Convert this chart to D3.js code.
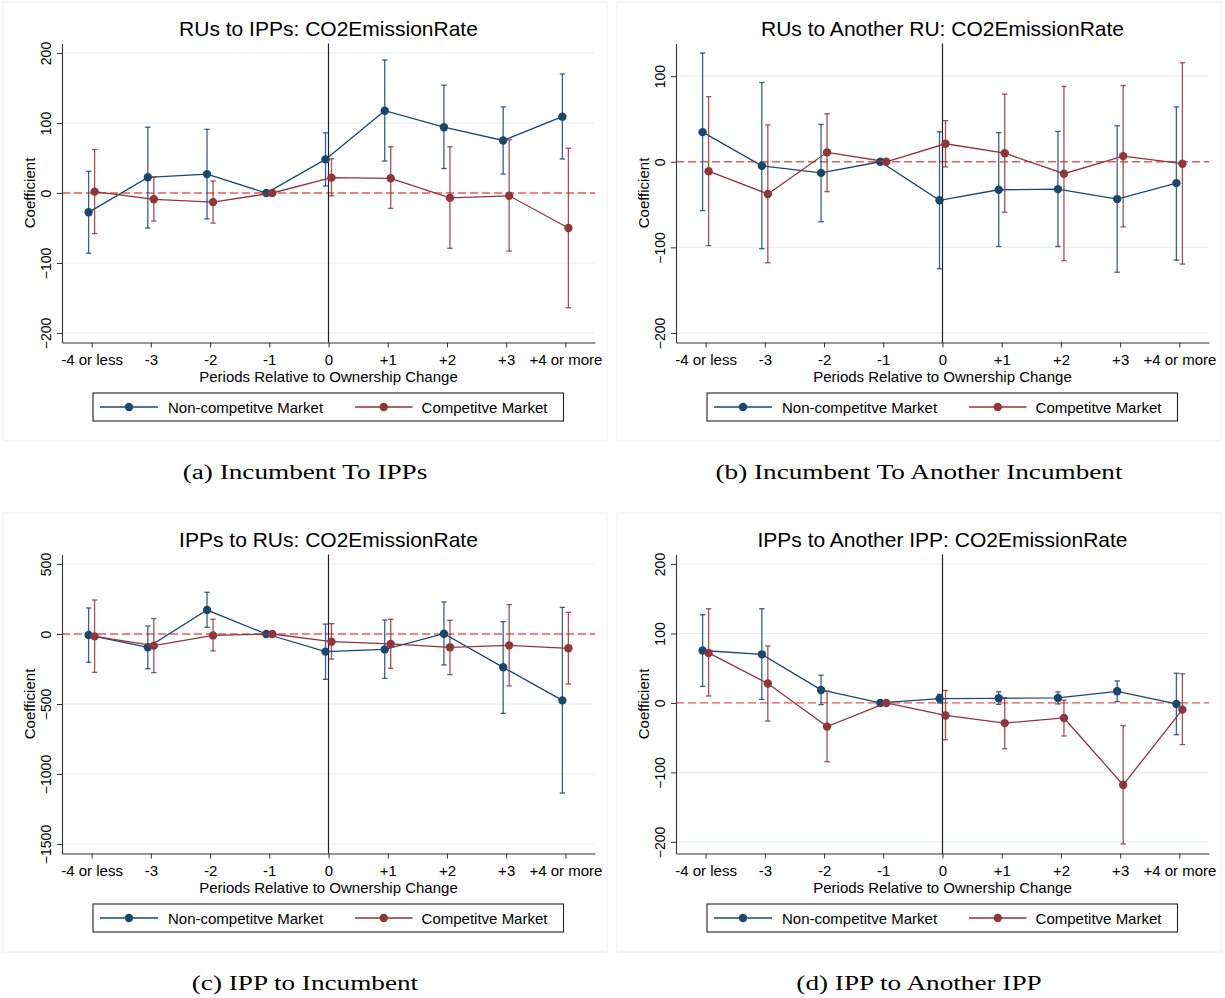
<!DOCTYPE html>
<html>
<head>
<meta charset="utf-8">
<script src="https://cdn.jsdelivr.net/npm/d3@7"></script>
<style>
  body { margin: 0; background: #fff; }
  text { font-family: "Liberation Sans", Arial, Helvetica, sans-serif; fill: #000; }
</style>
</head>
<body>
<div id="chart"></div>
<script>
// event-study coefficients
const categories = ["-4 or less", "-3", "-2", "-1", "0", "+1", "+2", "+3", "+4 or more"];

// (a) RUs to IPPs
const aNonCoef = [-27.6, 22.4, 27, 0, 48, 117.6, 94, 75, 109];
const aNonLo = [-86, -50, -37, null, 10, 45.7, 35, 27, 48.6];
const aNonHi = [31, 94, 91, null, 86, 190, 154, 123, 170];
const aCompCoef = [2, -9, -13, 0, 22, 21, -7, -4, -50];
const aCompLo = [-58, -40, -43, null, -4, -22, -79, -83, -164];
const aCompHi = [62, 23, 17, null, 49, 66, 66, 76, 64];

// (b) RUs to Another RU
const bNonCoef = [34.6, -4.7, -13, 0, -45, -32.7, -32, -43.6, -25];
const bNonLo = [-57, -101.6, -70, null, -125, -99, -99, -129, -115];
const bNonHi = [127, 92.6, 43.6, null, 35, 34, 35.4, 42, 64];
const bCompCoef = [-11, -37.7, 11, 0, 21, 10, -14, 6.6, -2.3];
const bCompLo = [-98, -118, -35, null, -6, -59, -115.6, -76, -119.5];
const bCompHi = [76, 43, 56, null, 48, 79, 88, 89, 115.6];

// (c) IPPs to RUs
const cNonCoef = [-7, -95, 171, 0, -126, -110, 2, -238, -474];
const cNonLo = [-202, -248, 48, null, -324, -317, -221, -567, -1136];
const cNonHi = [186, 57, 298, null, 71, 100, 229, 88, 190];
const cCompCoef = [-17, -83, -10, 0, -55, -71, -95, -81, -102];
const cCompLo = [-274, -276, -121, null, -179, -245, -290, -371, -357];
const cCompHi = [243, 110, 105, null, 74, 105, 98, 210, 155];

// (d) IPPs to Another IPP
const dNonCoef = [75.5, 70, 18.75, 0, 6.25, 6.7, 7.2, 16.8, -1.4];
const dNonLo = [24, 5, -2.4, null, 0, -2, -1.4, 2, -45.7];
const dNonHi = [127, 135.6, 40, null, 12.5, 16, 16, 31.7, 42.8];
const dCompCoef = [72, 28, -34, 0, -18, -29, -21.6, -118, -9.6];
const dCompLo = [10, -26, -84.6, null, -53, -66, -47.6, -203, -60];
const dCompHi = [135.6, 82, 17, null, 18, 7.7, 4, -32.7, 42];

const legendNames = ["Non-competitve Market", "Competitve Market"];
const colors = ["#1a476f", "#90353b"];

const panels = [
  { title: "RUs to IPPs: CO2EmissionRate", caption: "(a) Incumbent To IPPs",
    ticks: [-200, -100, 0, 100, 200], dx: 0, dy: 0,
    series: [[aNonCoef, aNonLo, aNonHi], [aCompCoef, aCompLo, aCompHi]] },
  { title: "RUs to Another RU: CO2EmissionRate", caption: "(b) Incumbent To Another Incumbent",
    ticks: [-200, -100, 0, 100], dx: 614, dy: 0,
    series: [[bNonCoef, bNonLo, bNonHi], [bCompCoef, bCompLo, bCompHi]] },
  { title: "IPPs to RUs: CO2EmissionRate", caption: "(c) IPP to Incumbent",
    ticks: [-1500, -1000, -500, 0, 500], dx: 0, dy: 511,
    series: [[cNonCoef, cNonLo, cNonHi], [cCompCoef, cCompLo, cCompHi]] },
  { title: "IPPs to Another IPP: CO2EmissionRate", caption: "(d) IPP to Another IPP",
    ticks: [-200, -100, 0, 100, 200], dx: 614, dy: 511,
    series: [[dNonCoef, dNonLo, dNonHi], [dCompCoef, dCompLo, dCompHi]] }
];

const W = 1225, H = 998;
const plot = { left: 62, right: 595, top: 43.5, bottom: 342.5 };
const offsets = [-3, 3];

const svg = d3.select("#chart").append("svg")
  .attr("width", W).attr("height", H)
  .attr("viewBox", `0 0 ${W} ${H}`);
svg.append("rect").attr("width", W).attr("height", H).attr("fill", "#fff");

panels.forEach(p => {
  const g = svg.append("g").attr("transform", `translate(${p.dx},${p.dy})`);

  // graph region
  g.append("rect")
    .attr("x", 3).attr("y", 2).attr("width", 604).attr("height", 439)
    .attr("fill", "#fff").attr("stroke", "#eeeeee");

  // y range = ticks + CIs, padded like stata does
  const allVals = p.ticks.slice();
  p.series.forEach(s => s.forEach(arr => arr.forEach(v => { if (v != null) allVals.push(v) })));
  const [lo, hi] = d3.extent(allVals);
  const pad = (hi - lo) * 0.034;

  const x = d3.scalePoint().domain(categories).range([plot.left, plot.right]).padding(0.5);
  const y = d3.scaleLinear().domain([lo - pad, hi + pad]).range([plot.bottom, plot.top]);

  // grid
  g.append("g").selectAll("line")
    .data(p.ticks).enter().append("line")
    .attr("x1", plot.left).attr("x2", plot.right)
    .attr("y1", d => y(d)).attr("y2", d => y(d))
    .attr("stroke", "#eaf0f1").attr("stroke-width", 1.2);

  // zero line
  g.append("line")
    .attr("x1", plot.left).attr("x2", plot.right)
    .attr("y1", y(0)).attr("y2", y(0))
    .attr("stroke", "#f05a5a").attr("stroke-width", 1.3)
    .attr("stroke-dasharray", "8,4");

  // event line
  g.append("line")
    .attr("x1", x("0")).attr("x2", x("0"))
    .attr("y1", plot.top).attr("y2", plot.bottom)
    .attr("stroke", "#222").attr("stroke-width", 1.2);

  // axes
  const yAxis = g.append("g")
    .attr("transform", `translate(${plot.left},0)`)
    .call(d3.axisLeft(y).tickValues(p.ticks).tickSize(5).tickSizeOuter(0).tickFormat(d3.format("d")));
  yAxis.selectAll("text")
    .attr("x", null).attr("dy", null)
    .attr("text-anchor", "middle")
    .attr("transform", "translate(-11,0) rotate(-90)")
    .style("font-size", "14px");

  const xAxis = g.append("g")
    .attr("transform", `translate(0,${plot.bottom})`)
    .call(d3.axisBottom(x).tickSize(5).tickSizeOuter(0));
  xAxis.selectAll("text")
    .attr("y", 22).attr("dy", null)
    .style("font-size", "15px");

  [yAxis, xAxis].forEach(ax => {
    ax.select(".domain").attr("stroke", "#333").attr("stroke-width", 1.1);
    ax.selectAll(".tick line").attr("stroke", "#333");
  });

  // series
  p.series.forEach((s, si) => {
    const [coef, low, high] = s;
    const col = colors[si];
    const xs = i => x(categories[i]) + offsets[si];
    const sg = g.append("g");

    const ci = sg.selectAll("g.ci")
      .data(coef.map((c, i) => ({ i, lo: low[i], hi: high[i] })).filter(d => d.lo != null))
      .enter().append("g").attr("class", "ci")
      .attr("stroke", col).attr("stroke-opacity", 0.85).attr("stroke-width", 1.3);
    ci.append("line")
      .attr("x1", d => xs(d.i)).attr("x2", d => xs(d.i))
      .attr("y1", d => y(d.lo)).attr("y2", d => y(d.hi));
    ci.append("line")
      .attr("x1", d => xs(d.i) - 2.7).attr("x2", d => xs(d.i) + 2.7)
      .attr("y1", d => y(d.lo)).attr("y2", d => y(d.lo));
    ci.append("line")
      .attr("x1", d => xs(d.i) - 2.7).attr("x2", d => xs(d.i) + 2.7)
      .attr("y1", d => y(d.hi)).attr("y2", d => y(d.hi));

    sg.append("path")
      .datum(coef)
      .attr("fill", "none").attr("stroke", col).attr("stroke-width", 1.3)
      .attr("d", d3.line().x((d, i) => xs(i)).y(d => y(d)));

    sg.selectAll("circle")
      .data(coef).enter().append("circle")
      .attr("cx", (d, i) => xs(i)).attr("cy", d => y(d))
      .attr("r", 4.2).attr("fill", col);
  });

  // titles
  const cx = (plot.left + plot.right) / 2;
  g.append("text")
    .attr("x", cx).attr("y", 36)
    .attr("text-anchor", "middle")
    .style("font-size", "21px")
    .text(p.title);

  g.append("text")
    .attr("transform", `translate(35,${(plot.top + plot.bottom) / 2}) rotate(-90)`)
    .attr("text-anchor", "middle")
    .style("font-size", "15px")
    .text("Coefficient");

  g.append("text")
    .attr("x", cx).attr("y", 381.5)
    .attr("text-anchor", "middle")
    .style("font-size", "15px")
    .text("Periods Relative to Ownership Change");

  // legend
  const lg = g.append("g");
  lg.append("rect")
    .attr("x", 93).attr("y", 393).attr("width", 470.5).attr("height", 28)
    .attr("fill", "#fff").attr("stroke", "#222").attr("stroke-width", 1.1);
  const items = [{ x1: 100, x2: 158, tx: 168 }, { x1: 355, x2: 412.5, tx: 421.6 }];
  items.forEach((it, i) => {
    lg.append("line")
      .attr("x1", it.x1).attr("x2", it.x2).attr("y1", 407).attr("y2", 407)
      .attr("stroke", colors[i]).attr("stroke-width", 1.3);
    lg.append("circle")
      .attr("cx", (it.x1 + it.x2) / 2).attr("cy", 407).attr("r", 4.2)
      .attr("fill", colors[i]);
    lg.append("text")
      .attr("x", it.tx).attr("y", 412.5)
      .style("font-size", "15px")
      .text(legendNames[i]);
  });

  // subfigure caption (latex-ish, wide serif)
  const cap = g.append("text")
    .attr("x", 305).attr("y", 479)
    .attr("text-anchor", "middle")
    .style("font-family", "'Liberation Serif', 'Times New Roman', serif")
    .style("font-size", "20px")
    .text(p.caption);
  const natural = cap.node().getComputedTextLength();
  cap.attr("textLength", natural * 1.36).attr("lengthAdjust", "spacingAndGlyphs");
});
</script>
</body>
</html>
